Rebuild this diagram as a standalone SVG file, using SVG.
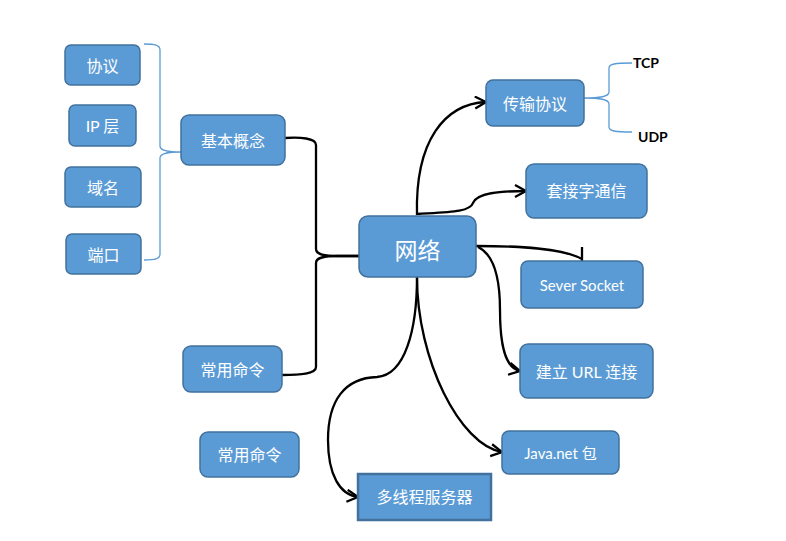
<svg xmlns="http://www.w3.org/2000/svg" width="786" height="541" viewBox="0 0 786 541">
<style>
.box{fill:#5B9BD5;stroke:#41719C;stroke-width:1.5}
.sq{fill:#5B9BD5;stroke:#41719C;stroke-width:2.5}
.lbl{font-family:"Lato","Noto Sans CJK SC",sans-serif;font-size:16px;fill:#fff;text-anchor:middle;dominant-baseline:central}
.big{font-size:23px}
.tcp{font-family:"Lato","Liberation Sans",sans-serif;font-size:14px;font-weight:bold;fill:#000}
.con{fill:none;stroke:#000;stroke-width:2.3}
.br{fill:none;stroke:#5B9BD5;stroke-width:1.3}
</style>
<defs>
<marker id="ah" markerUnits="userSpaceOnUse" markerWidth="16" markerHeight="16" refX="13" refY="7" orient="auto">
<path d="M2,1 L13,7 L2,13" fill="none" stroke="#000" stroke-width="2.3"/>
</marker>
</defs>
<rect width="786" height="541" fill="#fff"/>
<g id="connectors">
<path class="br" d="M144,44 C155,44 160,45 160,50 L160,146 C160,150 165,152 181,152 M181,152 C165,152 160,154 160,158 L160,254 C160,259 155,260 144,260"/>
<path class="br" d="M584,98 C600,98 609,97 609,92 L609,68 C609,64 615,63 632,63 M584,98 C600,98 609,99 609,104 L609,127 C609,131 615,132 632,132"/>
<path class="con" d="M285,138 C300,137 316,138 316,145 L316,249 C316,254 322,256 338,256 L359,256"/>
<path class="con" d="M359,256 L338,256 C322,256 316,258 316,263 L316,367 C316,374 300,375 282,375"/>
<path class="con" marker-end="url(#ah)" d="M417,215 C415,140 445,104 486,102"/>
<path class="con" marker-end="url(#ah)" d="M417,214 C450,212 470,212 473,203 C477,193 500,191 526,191"/>
<path class="con" d="M476,246 C520,246 562,248 582,259 M582,247 L582,261"/>
<path class="con" marker-end="url(#ah)" d="M478,247 C495,255 500,280 500,310 C500,345 505,368 520,371"/>
<path class="con" marker-end="url(#ah)" d="M417,277 C417,360 460,445 502,452"/>
<path class="con" marker-end="url(#ah)" d="M417,277 C417,330 405,375 377,377 C345,378 328,400 328,440 C328,475 340,495 358,497"/>
</g>
<g id="n-xieyi"><rect class="box" x="65" y="45" width="75" height="40" rx="6"/><text class="lbl" x="102.5" y="65">协议</text></g>
<g id="n-ip"><rect class="box" x="69" y="105" width="67" height="41" rx="6"/><text class="lbl" x="102.5" y="125.5">IP 层</text></g>
<g id="n-yuming"><rect class="box" x="65" y="167" width="76" height="40" rx="6"/><text class="lbl" x="103" y="187">域名</text></g>
<g id="n-duankou"><rect class="box" x="66" y="234" width="75" height="40" rx="6"/><text class="lbl" x="103.5" y="254">端口</text></g>
<g id="n-jiben"><rect class="box" x="181" y="115" width="104" height="50" rx="8"/><text class="lbl" x="233" y="140">基本概念</text></g>
<g id="n-changyong1"><rect class="box" x="183" y="346" width="99" height="46" rx="8"/><text class="lbl" x="232.5" y="369">常用命令</text></g>
<g id="n-changyong2"><rect class="box" x="200" y="432" width="99" height="45" rx="8"/><text class="lbl" x="249.5" y="454.5">常用命令</text></g>
<g id="n-wangluo"><rect class="box" x="359" y="216" width="117" height="61" rx="9"/><text class="lbl big" x="417.5" y="250">网络</text></g>
<g id="n-chuanshu"><rect class="box" x="486" y="80" width="98" height="46" rx="7"/><text class="lbl" x="535" y="103">传输协议</text></g>
<g id="n-tcp"><text class="tcp" x="633" y="68">TCP</text></g>
<g id="n-udp"><text class="tcp" x="638" y="142">UDP</text></g>
<g id="n-taojiezi"><rect class="box" x="526" y="164" width="121" height="54" rx="8"/><text class="lbl" x="586.5" y="190">套接字通信</text></g>
<g id="n-sever"><rect class="box" x="521" y="261" width="122" height="47" rx="7"/><text class="lbl" x="582" y="284.5" style="font-size:15px">Sever Socket</text></g>
<g id="n-url"><rect class="box" x="520" y="344" width="133" height="54" rx="8"/><text class="lbl" x="586.5" y="371">建立 URL 连接</text></g>
<g id="n-javanet"><rect class="box" x="502" y="431" width="117" height="43" rx="7"/><text class="lbl" x="560.5" y="452.5" style="font-size:15px">Java.net 包</text></g>
<g id="n-duoxiancheng"><rect class="sq" x="358" y="474" width="133" height="46"/><text class="lbl" x="424.5" y="496">多线程服务器</text></g>
</svg>
